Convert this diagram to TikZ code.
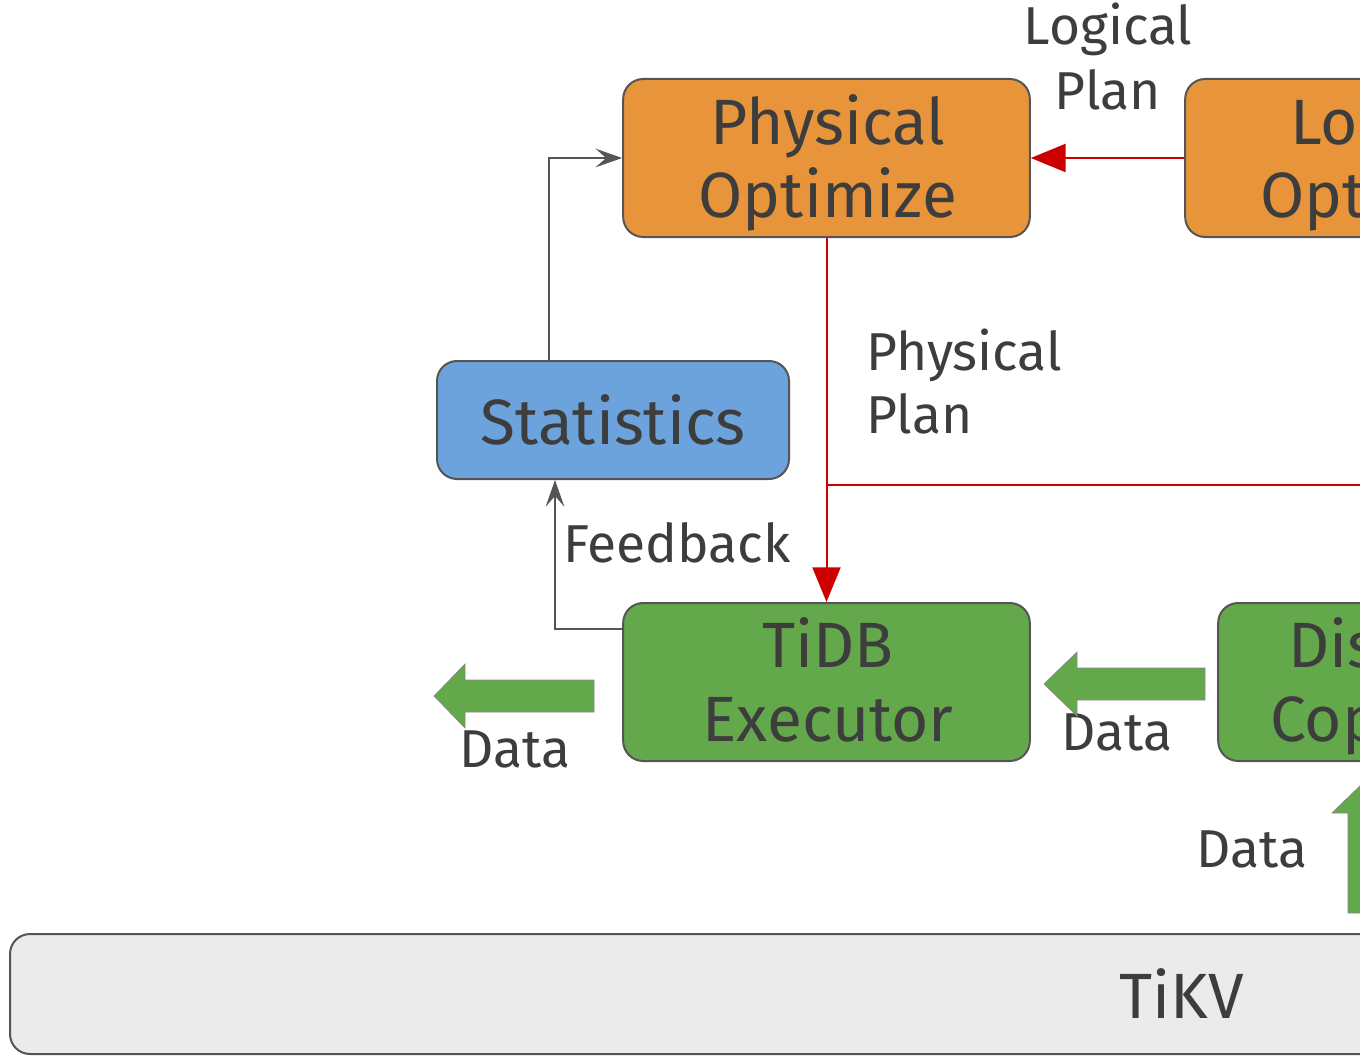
\documentclass[tikz,border=0pt]{standalone}
\usepackage{fontspec}
\setmainfont{Fira Sans}
\usetikzlibrary{arrows.meta,calc}
\definecolor{orangebox}{HTML}{E8943A}
\definecolor{greenbox}{HTML}{63A84A}
\definecolor{bluebox}{HTML}{6CA3DC}
\definecolor{graybox}{HTML}{EBEBEB}
\definecolor{edgegray}{HTML}{555555}
\definecolor{textgray}{HTML}{3D3D3D}
\definecolor{redline}{HTML}{CC0000}
\begin{document}
\begin{tikzpicture}[x=0.75pt,y=-0.75pt,
  box/.style={draw=edgegray, line width=1.5pt, rounded corners=15pt, text=textgray,
    align=center, inner sep=0pt},
  boxtext/.style={text=textgray, inner sep=0pt, font=\fontsize{48}{58}\selectfont},
  lbl/.style={text=textgray, inner sep=0pt, font=\fontsize{40}{48}\selectfont},
  redarrow/.style={draw=redline, line width=1.5pt, -{Triangle[length=26pt,width=21pt]}},
  grayarrow/.style={draw=edgegray, line width=1.5pt, -{Stealth[length=20pt,width=14pt,inset=8pt]}},
  blockarrow/.style={fill=greenbox, draw=edgegray!70, line width=0.5pt}
]
\useasboundingbox (0,0) rectangle (1360,1056);
\clip (0,0) rectangle (1360,1056);

% boxes
\node[box, fill=orangebox, minimum width=305pt, minimum height=118.5pt] (phys) at (826.5,158) {};
\node[box, fill=orangebox, minimum width=305pt, minimum height=118.5pt] (logopt) at (1388.5,158) {};
\node[box, fill=bluebox, minimum width=264pt, minimum height=88.5pt] (stats) at (613,420) {};
\node[box, fill=greenbox, minimum width=305pt, minimum height=118.5pt] (exec) at (826.5,682) {};
\node[box, fill=greenbox, minimum width=305pt, minimum height=118.5pt] (dist) at (1421.5,682) {};
\node[box, fill=graybox, minimum width=1500pt, minimum height=90pt] (tikv) at (1010,994) {};

% box texts
\node[boxtext, anchor=base] (physa) at (828,144) {Physical};
\node[boxtext, anchor=base] (physb) at (828,217) {Optimize};
\node[boxtext, anchor=base west] (loga) at (1290,144) {Lo};
\node[boxtext, anchor=base west] (logb) at (1260,217) {Opt};
\node[boxtext, anchor=base] (statst) at (613,444) {Statistics};
\node[boxtext, anchor=base] (execa) at (828,667) {TiDB};
\node[boxtext, anchor=base] (execb) at (828,741) {Executor};
\node[boxtext, anchor=base west] (dista) at (1288,667) {Dis};
\node[boxtext, anchor=base west] (distb) at (1270,741) {Cop};
\node[boxtext, anchor=base] (tikvt) at (1182,1018) {TiKV};

% labels
\node[lbl, anchor=base] (lp1) at (1108,45) {Logical};
\node[lbl, anchor=base] (lp2) at (1108,109) {Plan};
\node[lbl, anchor=base west] (pp1) at (866,370) {Physical};
\node[lbl, anchor=base west] (pp2) at (866,433) {Plan};
\node[lbl, anchor=base west] (fb) at (563,562) {Feedback};
\node[lbl, anchor=base west] (d1) at (459,767) {Data};
\node[lbl, anchor=base west] (d2) at (1061,750) {Data};
\node[lbl, anchor=base west] (d3) at (1196,867) {Data};

% connectors
\draw[redarrow] (logopt.west) -- (phys.east);
\draw[redarrow] (phys.south) -- (exec.north);
\coordinate (redend) at (1400,485);
\draw[draw=redline, line width=1.5pt] (phys.south |- redend) -- (redend);
\draw[grayarrow] ([xshift=-48pt]stats.north) |- (phys.west);
\draw[grayarrow] ([yshift=39.75pt]exec.west) -| ([xshift=-43.5pt]stats.south);

% block arrows
\draw[blockarrow] (594,680) -- (465,680) -- (465,664) -- (434,696) -- (465,728) -- (465,712) -- (594,712) -- cycle;
\draw[blockarrow] (1205,668) -- (1077,668) -- (1077,652) -- (1044,684) -- (1077,716) -- (1077,700) -- (1205,700) -- cycle;
\draw[blockarrow] (1348,913) -- (1348,813) -- (1332,813) -- (1364,782) -- (1396,813) -- (1380,813) -- (1380,913) -- cycle;
\end{tikzpicture}
\end{document}
